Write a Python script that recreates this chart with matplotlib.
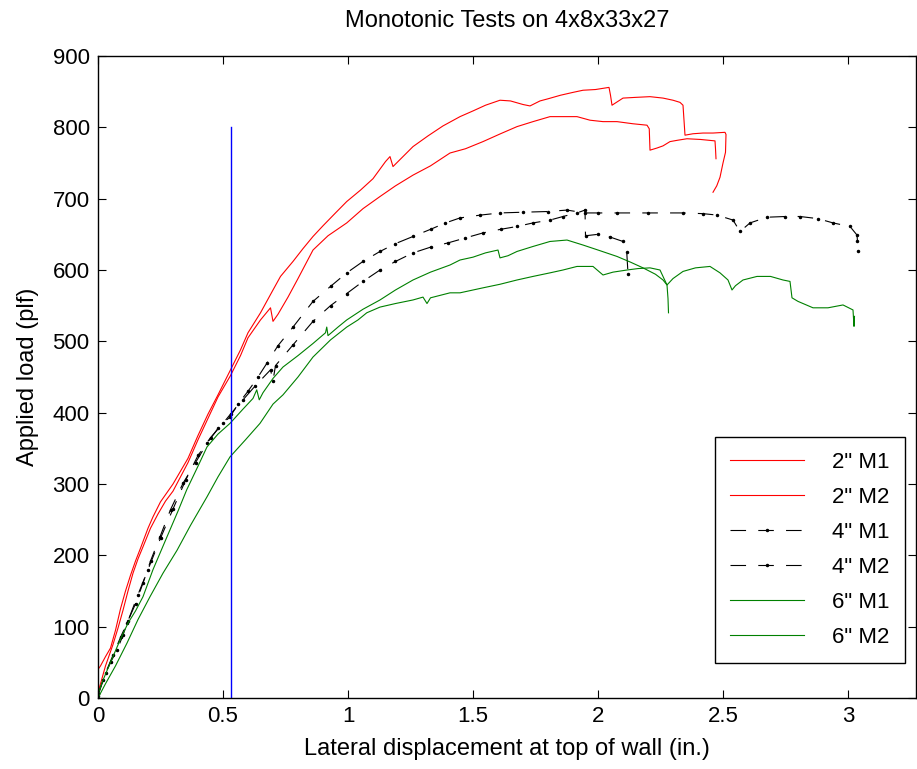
import matplotlib
matplotlib.use("Agg")
import matplotlib.pyplot as plt

plt.rcParams['font.family'] = ['Liberation Sans', 'DejaVu Sans']

# 2" M1
red1_x = [0, 0.01, 0.03, 0.05, 0.07, 0.09, 0.11, 0.13, 0.15, 0.17, 0.2, 0.22, 0.25, 0.28, 0.3,
          0.33, 0.36, 0.4, 0.44, 0.48, 0.53, 0.57, 0.6, 0.65, 0.7, 0.73, 0.78, 0.82, 0.86, 0.9,
          0.95, 0.995, 1.05, 1.1, 1.15, 1.168, 1.18, 1.2, 1.26, 1.32, 1.38, 1.448, 1.5, 1.55,
          1.608, 1.65, 1.7, 1.728, 1.768, 1.8, 1.85, 1.9, 1.94, 1.99, 2.044, 2.05, 2.056, 2.1,
          2.15, 2.208, 2.26, 2.3, 2.328, 2.34, 2.348, 2.38, 2.42, 2.46, 2.508, 2.512, 2.51, 2.5,
          2.488, 2.475, 2.46]
red1_y = [40, 45, 58, 70, 95, 125, 150, 172, 192, 210, 238, 254, 275, 290, 300,
          318, 336, 368, 398, 425, 460, 488, 512, 540, 572, 591, 612, 630, 647, 662,
          680, 696, 712, 728, 752, 759, 745, 752, 773, 788, 802, 815, 823, 831,
          838, 837, 832, 830, 837, 840, 845, 849, 852, 853, 856, 845, 831, 841,
          842, 843, 841, 838, 835, 831, 789, 791, 792, 792, 793, 790, 765, 750,
          730, 718, 709]

# 2" M2
red2_x = [0, 0.01, 0.03, 0.06, 0.08, 0.1, 0.12, 0.14, 0.16, 0.18, 0.21, 0.24, 0.27, 0.3, 0.33,
          0.36, 0.4, 0.44, 0.48, 0.53, 0.57, 0.6, 0.65, 0.69, 0.7, 0.72, 0.76, 0.8, 0.86, 0.92,
          0.995, 1.06, 1.128, 1.19, 1.26, 1.33, 1.408, 1.47, 1.54, 1.61, 1.676, 1.74, 1.808,
          1.86, 1.916, 1.968, 2.02, 2.076, 2.14, 2.196, 2.205, 2.208, 2.236, 2.26, 2.288, 2.32,
          2.356, 2.41, 2.468, 2.47, 2.472]
red2_y = [8, 20, 45, 75, 98, 123, 150, 175, 195, 212, 238, 258, 276, 290, 310,
          330, 362, 392, 422, 452, 480, 505, 530, 547, 528, 538, 562, 588, 628, 648,
          666, 686, 703, 718, 733, 746, 764, 770, 780, 791, 801, 808, 815,
          815, 815, 810, 808, 808, 805, 803, 798, 768, 771, 774, 780, 782,
          784, 783, 781, 770, 756]

# 4" M1
blk1_x = [0, 0.02, 0.05, 0.076, 0.1, 0.116, 0.15, 0.18, 0.21, 0.248, 0.29, 0.34, 0.39, 0.436,
          0.48, 0.528, 0.56, 0.6, 0.64, 0.675, 0.72, 0.78, 0.86, 0.93, 0.995, 1.06, 1.128, 1.19,
          1.26, 1.33, 1.39, 1.448, 1.53, 1.608, 1.7, 1.8, 1.876, 1.948, 2.0, 2.076, 2.2, 2.34,
          2.42, 2.476, 2.54, 2.568, 2.608, 2.676, 2.75, 2.808, 2.88, 2.94, 3.008, 3.036, 3.038,
          3.04]
blk1_y = [5, 25, 50, 67, 88, 105, 132, 161, 192, 226, 264, 301, 330, 357,
          378, 394, 412, 430, 450, 469, 494, 520, 556, 577, 596, 612, 626, 637,
          647, 657, 666, 673, 677, 680, 681, 682, 684, 680, 680, 680, 680, 680,
          679, 677, 670, 654, 666, 674, 675, 675, 672, 666, 661, 649, 640,
          626]

# 4" M2
blk2_x = [0, 0.03, 0.06, 0.09, 0.12, 0.16, 0.2, 0.25, 0.3, 0.35, 0.4, 0.45, 0.5, 0.53, 0.58,
          0.63, 0.69, 0.7, 0.71, 0.78, 0.86, 0.93, 0.995, 1.06, 1.128, 1.19, 1.26, 1.33, 1.4,
          1.47, 1.54, 1.61, 1.676, 1.74, 1.808, 1.86, 1.916, 1.948, 1.95, 2.0, 2.05, 2.1, 2.115,
          2.12]
blk2_y = [3, 35, 60, 85, 108, 145, 180, 224, 265, 305, 340, 365, 385, 398, 418,
          438, 460, 445, 466, 495, 528, 550, 567, 584, 600, 612, 624, 632, 638,
          645, 652, 657, 661, 666, 670, 675, 680, 684, 648, 650, 646, 640, 625,
          595]

# 6" M1
grn1_x = [0, 0.02, 0.05, 0.088, 0.12, 0.15, 0.18, 0.22, 0.276, 0.32, 0.355, 0.4, 0.436, 0.48,
          0.528, 0.58, 0.62, 0.635, 0.645, 0.66, 0.7, 0.74, 0.8, 0.86, 0.91, 0.915, 0.92, 0.96,
          0.995, 1.06, 1.128, 1.19, 1.26, 1.33, 1.408, 1.448, 1.5, 1.55, 1.6, 1.608, 1.64, 1.676,
          1.74, 1.808, 1.876, 1.94, 2.0, 2.076, 2.13, 2.18, 2.23, 2.26, 2.276, 2.28, 2.282]
grn1_y = [5, 25, 50, 81, 105, 122, 142, 180, 226, 262, 292, 325, 352, 370,
          385, 405, 420, 432, 418, 428, 448, 464, 480, 497, 512, 520, 508, 520,
          530, 545, 558, 572, 586, 597, 607, 614, 618, 624, 628, 617, 620, 626,
          633, 640, 642, 635, 628, 619, 611, 603, 594, 586, 579, 560, 540]

# 6" M2
grn2_x = [0, 0.03, 0.07, 0.116, 0.16, 0.208, 0.26, 0.316, 0.37, 0.436, 0.48, 0.528, 0.59, 0.648,
          0.7, 0.74, 0.8, 0.86, 0.93, 0.995, 1.04, 1.075, 1.128, 1.19, 1.26, 1.3, 1.316, 1.33,
          1.408, 1.448, 1.54, 1.608, 1.676, 1.74, 1.808, 1.86, 1.916, 1.98, 2.02, 2.06, 2.116,
          2.16, 2.208, 2.248, 2.276, 2.3, 2.34, 2.39, 2.448, 2.488, 2.52, 2.536, 2.55, 2.58,
          2.636, 2.69, 2.74, 2.768, 2.776, 2.8, 2.86, 2.92, 2.98, 3.02, 3.024, 3.026]
grn2_y = [0, 20, 45, 77, 110, 142, 175, 207, 242, 282, 310, 338, 362, 385,
          412, 425, 450, 478, 502, 520, 530, 540, 548, 553, 558, 562, 553, 561,
          568, 568, 575, 580, 586, 591, 596, 600, 605, 605, 593, 597, 600,
          602, 603, 600, 579, 588, 598, 603, 605, 596, 586, 572, 578, 586,
          591, 591, 586, 584, 561, 556, 547, 547, 551, 544, 521, 535]

# vertical reference line
ref_x = 0.532
ref_top = 800

labels = ['2" M1', '2" M2', '4" M1', '4" M2', '6" M1', '6" M2']

fig = plt.figure(figsize=(9.17, 7.69), dpi=100)
ax = fig.add_axes([98 / 917, 71 / 769, 818 / 917, 642 / 769])

lw = 0.8
dash = (0, (14, 11))
ax.plot(red1_x, red1_y, color='r', lw=lw, label=labels[0])
ax.plot(red2_x, red2_y, color='r', lw=lw, label=labels[1])
ax.plot(blk1_x, blk1_y, color='k', lw=lw, ls=dash, marker='.', ms=3, label=labels[2])
ax.plot(blk2_x, blk2_y, color='k', lw=lw, ls=dash, marker='.', ms=3, label=labels[3])
ax.plot(grn1_x, grn1_y, color='#008000', lw=lw, label=labels[4])
ax.plot(grn2_x, grn2_y, color='#008000', lw=lw, label=labels[5])
ax.plot([ref_x, ref_x], [0, ref_top], color='#0000ff', lw=1.0)

ax.set_xlim(0, 818 / 250)
ax.set_ylim(0, 900)
ax.set_xticks([0, 0.5, 1, 1.5, 2, 2.5, 3])
ax.set_xticklabels(['0', '0.5', '1', '1.5', '2', '2.5', '3'])
ax.set_yticks(range(0, 901, 100))
ax.tick_params(direction='in', top=True, right=True, length=6, width=0.8,
               labelsize=16, pad=6)
for s in ax.spines.values():
    s.set_linewidth(1.0)

ax.set_title('Monotonic Tests on 4x8x33x27', fontsize=17, pad=21)
ax.set_xlabel('Lateral displacement at top of wall (in.)', fontsize=17, labelpad=8)
ax.set_ylabel('Applied load (plf)', fontsize=17, labelpad=10)

leg = ax.legend(loc='lower right', bbox_to_anchor=(0.9866, 0.0545), borderaxespad=0,
                fontsize=16, handlelength=3.3, handletextpad=1.3, labelspacing=0.63,
                borderpad=0.68, fancybox=False, framealpha=1, edgecolor='k')
leg.get_frame().set_linewidth(1.0)

fig.savefig('out.png', dpi=100)
